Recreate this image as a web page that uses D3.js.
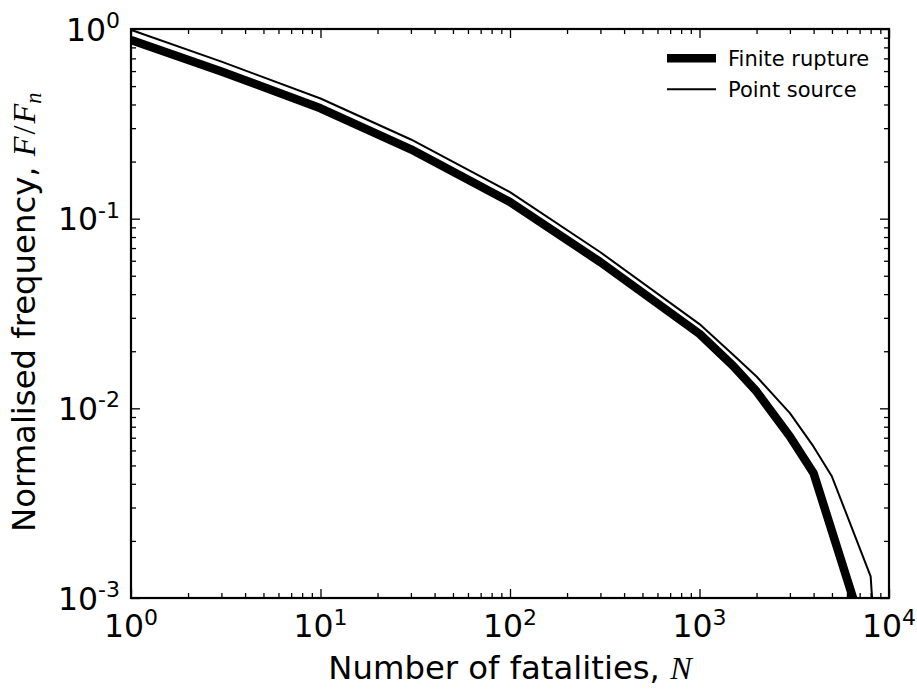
<!DOCTYPE html>
<html><head><meta charset="utf-8">
<script src="https://cdn.jsdelivr.net/npm/d3@7"></script>
<style>
  body { margin: 0; background: #fff; }
  svg { display: block; }
  text { font-family: "DejaVu Sans", sans-serif; fill: #000; }
  .math { font-family: "Liberation Serif", "DejaVu Serif", serif; font-style: italic; }
</style>
</head><body>
<svg id="chart" width="917" height="689"></svg>
<script>
// Cumulative normalised frequency of exceeding N fatalities
const finiteN = [1, 3, 10, 30, 100, 300, 1000, 1500, 2000, 3000, 4000, 6800];
const finiteF = [0.875, 0.597, 0.382, 0.232, 0.1225, 0.059, 0.0247, 0.0168, 0.01227, 0.00711, 0.00455, 0.00085];
const pointN = [1, 3, 10, 30, 100, 300, 1000, 1500, 2000, 3000, 4000, 5000, 8000, 8250];
const pointF = [0.99, 0.673, 0.43, 0.2615, 0.138, 0.0665, 0.0278, 0.0192, 0.01472, 0.00944, 0.00628, 0.00437, 0.0013, 0.00082];

const xTickExponents = [0, 1, 2, 3, 4];
const yTickExponents = [-3, -2, -1, 0];
const seriesNames = ["Finite rupture", "Point source"];

const svg = d3.select("#chart");
const plotLeft = 131, plotRight = 889, plotTop = 29, plotBottom = 598;

const x = d3.scaleLog().domain([1, 1e4]).range([plotLeft, plotRight]);
const y = d3.scaleLog().domain([1e-3, 1]).range([plotBottom, plotTop]);

svg.append("defs").append("clipPath").attr("id", "plot-clip")
  .append("rect").attr("x", plotLeft).attr("y", plotTop)
  .attr("width", plotRight - plotLeft).attr("height", plotBottom - plotTop);

const line = d3.line().x(d => x(d[0])).y(d => y(d[1]));

const plot = svg.append("g").attr("clip-path", "url(#plot-clip)");
plot.append("path")
  .datum(finiteN.map((n, i) => [n, finiteF[i]]))
  .attr("d", line).attr("fill", "none").attr("stroke", "#000")
  .attr("stroke-width", 8.5).attr("stroke-linejoin", "round");
plot.append("path")
  .datum(pointN.map((n, i) => [n, pointF[i]]))
  .attr("d", line).attr("fill", "none").attr("stroke", "#000")
  .attr("stroke-width", 2).attr("stroke-linejoin", "round");

// Major and minor tick values per decade
function minorTicks(exps) {
  const out = [];
  for (let i = 0; i < exps.length - 1; i++) {
    for (let k = 2; k <= 9; k++) out.push(k * Math.pow(10, exps[i]));
  }
  return out;
}
const xMajor = xTickExponents.map(e => Math.pow(10, e));
const yMajor = yTickExponents.map(e => Math.pow(10, e));
const xMinor = minorTicks(xTickExponents);
const yMinor = minorTicks(yTickExponents);

function drawAxis(gen, vals, size, transform) {
  const g = svg.append("g").attr("transform", transform)
    .call(gen.tickValues(vals).tickSizeInner(-size).tickSizeOuter(0).tickFormat(""));
  g.select(".domain").remove();
  g.selectAll(".tick line").attr("stroke", "#000").attr("stroke-width", 1.3);
}
[[xMajor, 9], [xMinor, 5]].forEach(([v, s]) => {
  drawAxis(d3.axisBottom(x), v, s, `translate(0,${plotBottom})`);
  drawAxis(d3.axisTop(x), v, s, `translate(0,${plotTop})`);
});
[[yMajor, 9], [yMinor, 5]].forEach(([v, s]) => {
  drawAxis(d3.axisLeft(y), v, s, `translate(${plotLeft},0)`);
  drawAxis(d3.axisRight(y), v, s, `translate(${plotRight},0)`);
});

svg.append("rect").attr("x", plotLeft).attr("y", plotTop)
  .attr("width", plotRight - plotLeft).attr("height", plotBottom - plotTop)
  .attr("fill", "none").attr("stroke", "#000").attr("stroke-width", 2.2);

// Tick labels as powers of ten
function powerLabel(sel, e) {
  sel.append("tspan").text("10");
  sel.append("tspan").attr("font-size", 22).attr("dy", -12.5).text(String(e));
}
xTickExponents.forEach(e => {
  svg.append("text").attr("x", x(Math.pow(10, e))).attr("y", 637)
    .attr("text-anchor", "middle").attr("font-size", 31.5)
    .call(powerLabel, e);
});
yTickExponents.forEach(e => {
  svg.append("text").attr("x", 120).attr("y", y(Math.pow(10, e)) + 11.5)
    .attr("text-anchor", "end").attr("font-size", 31.5)
    .call(powerLabel, e);
});

// Axis titles
const xt = svg.append("text").attr("x", (plotLeft + plotRight) / 2).attr("y", 679)
  .attr("text-anchor", "middle").attr("font-size", 32.3);
xt.append("tspan").text("Number of fatalities, ");
xt.append("tspan").attr("class", "math").text("N");

const yt = svg.append("text")
  .attr("transform", `translate(35,532) rotate(-90)`)
  .attr("text-anchor", "start").attr("font-size", 32.3);
yt.append("tspan").text("Normalised frequency, ");
yt.append("tspan").attr("class", "math").text("F");
yt.append("tspan").attr("font-family", "Liberation Serif, DejaVu Serif, serif").attr("dx", 2).text("/");
yt.append("tspan").attr("class", "math").attr("dx", 2).text("F");
yt.append("tspan").attr("class", "math").attr("font-size", 22.5).attr("dy", 6).text("n");

// Legend
const legendRows = [
  { name: seriesNames[0], width: 8.5, y: 58.3 },
  { name: seriesNames[1], width: 2, y: 89.3 }
];
legendRows.forEach(r => {
  svg.append("line").attr("x1", 667).attr("x2", 716).attr("y1", r.y).attr("y2", r.y)
    .attr("stroke", "#000").attr("stroke-width", r.width);
  svg.append("text").attr("x", 728).attr("y", r.y + 7.5)
    .attr("font-size", 21).text(r.name);
});
</script>
</body></html>
